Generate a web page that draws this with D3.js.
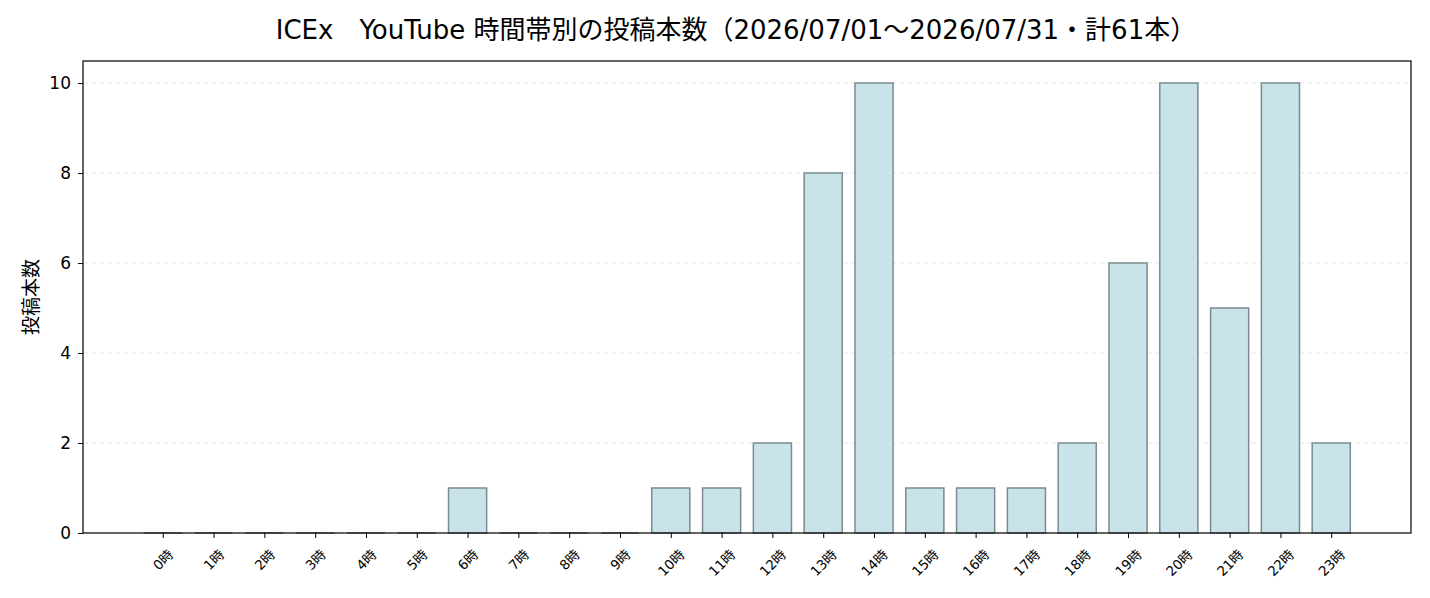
<!DOCTYPE html>
<html>
<head>
<meta charset="utf-8">
<script src="https://cdn.jsdelivr.net/npm/d3@7"></script>
<style>
  body { margin: 0; background: #fff; }
  text { font-family: "DejaVu Sans", "Noto Sans CJK JP", sans-serif; fill: #000; }
</style>
</head>
<body>
<svg id="chart"></svg>
<script>
// posts per hour of day, July 2026
const hours = d3.range(24).map(function(h) { return h + "時"; });
const counts = [0, 0, 0, 0, 0, 0, 1, 0, 0, 0, 1, 1, 2, 8, 10, 1, 1, 1, 2, 6, 10, 5, 10, 2];
const yTicks = [0, 2, 4, 6, 8, 10];
const title = "ICEx\u3000YouTube 時間帯別の投稿本数（2026/07/01〜2026/07/31・計61本）";
const yLabel = "投稿本数";

const width = 1430,
  height = 598;
const margin = { top: 61, right: 19, bottom: 65, left: 83 };

const svg = d3.select("#chart").attr("width", width).attr("height", height);

const x = d3
  .scaleLinear()
  .domain([-1.57, 24.57])
  .range([margin.left, width - margin.right]);

const y = d3
  .scaleLinear()
  .domain([0, 10.49])
  .range([height - margin.bottom, margin.top]);

const barW = 0.75;

// grid
svg
  .append("g")
  .selectAll("line")
  .data(yTicks)
  .enter()
  .append("line")
  .attr("x1", margin.left)
  .attr("x2", width - margin.right)
  .attr("y1", function(d) { return y(d); })
  .attr("y2", function(d) { return y(d); })
  .attr("stroke", "#e6e6e6")
  .attr("stroke-width", 1)
  .attr("stroke-dasharray", "5,3");

// bars as paths so zero bars still show their edge
svg
  .append("g")
  .selectAll("path")
  .data(counts)
  .enter()
  .append("path")
  .attr("d", function(d, i) {
    const x0 = x(i - barW / 2),
      x1 = x(i + barW / 2);
    return "M" + x0 + "," + y(0) + "H" + x1 + "V" + y(d) + "H" + x0 + "Z";
  })
  .attr("fill", "#c8e4ea")
  .attr("stroke", "#7b8b8f")
  .attr("stroke-width", 1.5);

// y axis
const yAxis = svg
  .append("g")
  .attr("transform", "translate(" + margin.left + ",0)")
  .call(d3.axisLeft(y).tickValues(yTicks).tickSize(5).tickPadding(7));
yAxis.select(".domain").remove();
yAxis.selectAll("line").attr("stroke", "#000");
yAxis.selectAll("text").style("font-size", "17px");

// x axis, labels rotated 45 with their box centred under the tick
const xFont = 13.5;
const xAxis = svg
  .append("g")
  .attr("transform", "translate(0," + (height - margin.bottom) + ")")
  .call(
    d3
      .axisBottom(x)
      .tickValues(d3.range(24))
      .tickFormat(function(i) { return hours[i]; })
      .tickSize(5)
  );
xAxis.select(".domain").remove();
xAxis.selectAll("line").attr("stroke", "#000");
xAxis
  .selectAll("text")
  .style("font-size", xFont + "px")
  .attr("text-anchor", "middle")
  .attr("x", 0)
  .attr("y", 0)
  .attr("dy", "0.35em")
  .attr("transform", function() {
    const L = this.getComputedTextLength();
    const cy = 15 + ((L + xFont * 0.85) * Math.SQRT1_2) / 2;
    return "translate(0," + cy + ") rotate(-45)";
  });

// frame
svg
  .append("rect")
  .attr("x", margin.left)
  .attr("y", margin.top)
  .attr("width", width - margin.left - margin.right)
  .attr("height", height - margin.top - margin.bottom)
  .attr("fill", "none")
  .attr("stroke", "#000")
  .attr("stroke-width", 1.2);

// title
svg
  .append("text")
  .attr("x", 736)
  .attr("y", 39)
  .attr("text-anchor", "middle")
  .style("font-size", "26px")
  .text(title);

// y label
svg
  .append("text")
  .attr("transform", "translate(31," + (margin.top + height - margin.bottom) / 2 + ") rotate(-90)")
  .attr("text-anchor", "middle")
  .attr("dy", "0.35em")
  .style("font-size", "19px")
  .text(yLabel);
</script>
</body>
</html>
